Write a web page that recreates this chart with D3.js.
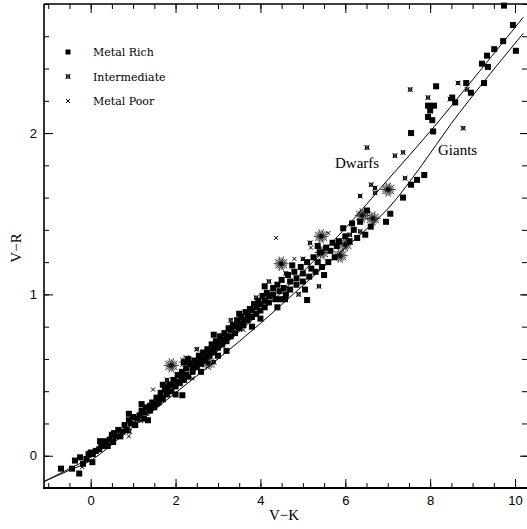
<!DOCTYPE html>
<html>
<head>
<meta charset="utf-8">
<script src="https://cdn.jsdelivr.net/npm/d3@7"></script>
<style>
  body { margin: 0; background: #fff; }
  svg { display: block; }
  .tick text { font-family: "Liberation Sans", sans-serif; font-size: 13px; fill: #000; }
</style>
</head>
<body>
<svg id="chart" width="527" height="529"></svg>
<script>

// values, [V-K, V-R]
var metalRich = [
  [-0.70,-0.08],[-0.44,-0.08],[-0.27,-0.11],[-0.37,-0.03],[-0.18,-0.05],[-0.25,-0.01],[-0.10,-0.02],
  [0.04,-0.04],[-0.05,0.01],[0.05,0.01],[0.12,0.03],[0.00,0.02],[0.22,0.09],[0.20,0.04],[0.30,0.06],
  [0.35,0.09],[0.45,0.10],[0.53,0.085],[0.50,0.13],[0.60,0.12],[0.65,0.16],[0.75,0.15],[0.80,0.19],
  [0.85,0.16],[0.95,0.20],[1.00,0.24],[1.05,0.19],[1.15,0.25],[1.20,0.28],[1.25,0.23],[1.30,0.30],
  [1.40,0.28],[1.45,0.33],[1.50,0.30],[1.55,0.36],[1.60,0.33],[1.65,0.39],[1.70,0.35],[1.75,0.41],
  [1.80,0.38],[1.85,0.44],[1.90,0.40],[1.95,0.47],[2.00,0.43],[2.05,0.50],[2.10,0.45],[2.16,0.375],
  [2.15,0.52],[2.20,0.47],[2.25,0.54],[2.30,0.49],[2.35,0.57],[2.40,0.52],[2.45,0.59],[2.50,0.55],
  [2.55,0.62],[2.60,0.57],[2.65,0.64],[2.70,0.59],[2.75,0.66],[2.80,0.62],[2.85,0.69],[2.90,0.64],
  [2.95,0.71],[3.00,0.67],[3.05,0.74],[3.10,0.69],[3.15,0.76],[3.20,0.71],[3.25,0.79],[3.30,0.74],
  [3.35,0.81],[3.40,0.76],[3.45,0.84],[3.50,0.79],[3.55,0.86],[3.60,0.81],[3.65,0.89],[3.70,0.84],
  [3.75,0.91],[3.80,0.86],[3.85,0.94],[3.90,0.88],[3.95,0.96],[4.00,0.90],[4.05,0.99],[4.10,0.92],
  [4.15,1.01],[4.20,0.95],[4.30,1.04],[4.35,0.97],[4.40,1.06],[4.47,0.97],[4.58,0.97],[4.50,1.09],
  [4.60,1.00],[4.65,1.12],[4.70,1.03],[4.80,1.14],[4.85,1.06],[4.95,1.17],[5.00,1.08],[5.10,0.965],
  [5.10,1.20],[5.15,1.11],[5.25,1.23],[5.30,1.14],[5.40,1.26],[5.45,1.17],[5.55,1.29],[5.60,1.20],
  [5.70,1.32],[5.75,1.23],[0.90,0.26],[1.35,0.22],[1.70,0.44],[2.00,0.38],[2.30,0.60],[2.60,0.52],
  [2.90,0.75],[3.20,0.65],[3.50,0.88],[3.80,0.80],[4.10,1.05],[4.40,0.92],[4.75,1.18],[5.05,1.03],
  [5.35,1.30],[5.50,1.12],[3.00,0.62],[2.20,0.58],[1.20,0.32],[4.00,0.85],
  [0.25,0.07],[0.40,0.06],[0.55,0.14],[0.70,0.12],[0.90,0.22],[1.10,0.23],[1.25,0.27],[1.40,0.31],
  [1.55,0.32],[1.65,0.36],[1.80,0.42],[1.90,0.44],[2.05,0.46],[2.15,0.49],[2.25,0.50],[2.40,0.55],
  [2.50,0.58],[2.60,0.60],[2.70,0.62],[2.80,0.65],[2.90,0.67],[3.00,0.70],[3.10,0.72],[3.20,0.74],
  [3.30,0.78],[3.40,0.80],[3.50,0.82],[3.60,0.84],[3.70,0.87],[3.80,0.90],[3.90,0.92],[4.00,0.94],
  [4.10,0.96],[4.20,0.99],[4.30,1.00],[4.45,1.02],[4.55,1.04],[4.70,1.08],[4.85,1.10],[5.00,1.13],
  [5.20,1.16],[5.35,1.20],[5.65,1.27],[5.85,1.33],[6.00,1.36],[6.20,1.40],[6.35,1.45],[5.80,1.30],
  [6.10,1.33],[6.60,1.42],
  [5.95,1.41],[6.16,1.44],[6.28,1.35],[6.47,1.37],[6.51,1.52],[6.96,1.45],[7.06,1.50],[7.36,1.60],
  [7.55,1.68],[7.69,1.71],[7.86,1.74],[7.55,2.00],[8.07,2.01],[7.95,2.10],[8.05,2.08],[8.00,2.14],
  [7.95,2.17],[8.09,2.17],[8.14,2.29],[8.52,2.22],[8.59,2.19],[8.85,2.31],[8.96,2.25],[9.27,2.31],
  [9.22,2.43],[9.36,2.41],[9.34,2.48],[9.51,2.52],[9.72,2.57],[10.02,2.51],[9.95,2.67],[9.74,2.79]
];
var intermediate = [
  [7.53,2.27],[7.95,2.22],[8.66,2.31],[8.47,2.21],[8.87,2.27],[8.78,2.03],[6.51,1.91],[7.17,1.86],
  [7.36,1.88],[7.41,1.72],[6.61,1.68],[6.70,1.66],[6.35,1.61],[6.70,1.63],[6.11,1.37],[6.35,1.39],
  [5.17,1.32],[5.38,1.05],[0.91,0.15],[2.50,0.66],[3.30,0.84],[4.20,1.08],[3.90,0.98],[1.80,0.47],
  [4.60,1.13],[5.00,1.22],[2.90,0.58],[4.90,1.00]
];
var metalPoor = [
  [1.19,0.215],[1.33,0.26],[1.47,0.41],[4.37,1.35],[5.19,1.29],[0.90,0.12],[2.40,0.48],
  [3.60,0.78],[4.80,1.22],[5.60,1.38],[-0.20,-0.07]
];
var starred = [
  [7.01,1.65],[6.40,1.49],[6.65,1.47],[5.43,1.36],[6.00,1.31],[5.88,1.24],[5.45,1.26],[4.49,1.19],
  [1.90,0.56],[2.25,0.58],[2.77,0.575]
];
var dwarfCurve = [
  [-1.1,-0.16],[-0.5,-0.08],[0,-0.01],[1,0.20],[2,0.42],[3,0.65],[4,0.89],[5,1.14],[6,1.41],
  [7,1.71],[8,2.01],[9,2.33],[10.2,2.72]
];
var giantCurve = [
  [-1.1,-0.16],[-0.5,-0.09],[0,-0.03],[1,0.18],[2,0.39],[3,0.60],[4,0.82],[5,1.055],[6,1.29],
  [7,1.53],[7.8,1.80],[8.5,2.06],[9.3,2.33],[10.2,2.62]
];
var xMajor = [0, 2, 4, 6, 8, 10];
var xMinor = d3.range(-1, 10.3, 0.5);
var yMajor = [0, 1, 2];
var yMinor = d3.range(-0.2, 2.81, 0.2);
var legendItems = ["Metal Rich", "Intermediate", "Metal Poor"];

var svg = d3.select("#chart");
var plotL = 44, plotR = 526.5, plotT = 4, plotB = 488;

var x = d3.scaleLinear().domain([-1.1, 10.27]).range([plotL, plotR]);
var y = d3.scaleLinear().domain([-0.2, 2.8]).range([plotB, plotT]);

function drawAxis(axis, tx, ty, vals, len, labels) {
  let g = svg.append("g").attr("transform", `translate(${tx},${ty})`)
    .call(axis.tickValues(vals).tickSizeInner(-len).tickSizeOuter(0)
      .tickFormat(labels ? d3.format("d") : ""));
  g.select(".domain").remove();
  g.selectAll(".tick line").attr("stroke", "#000").attr("stroke-width", 1);
  return g;
}

// ticks point inward on all four sides
drawAxis(d3.axisBottom(x), 0, plotB, xMajor, 9, true)
  .selectAll("text").attr("y", 8);
drawAxis(d3.axisBottom(x), 0, plotB, xMinor, 5, false);
drawAxis(d3.axisTop(x), 0, plotT, xMajor, 9, false);
drawAxis(d3.axisTop(x), 0, plotT, xMinor, 5, false);
drawAxis(d3.axisLeft(y), plotL, 0, yMajor, 9, true)
  .selectAll("text").attr("x", -7);
drawAxis(d3.axisLeft(y), plotL, 0, yMinor, 5, false);
drawAxis(d3.axisRight(y), 527, 0, yMajor, 7, false);
drawAxis(d3.axisRight(y), 527, 0, yMinor, 5, false);

svg.append("line").attr("x1", plotL).attr("x2", plotL).attr("y1", plotT).attr("y2", plotB + 1)
  .attr("stroke", "#000").attr("stroke-width", 1.6);
svg.append("line").attr("x1", plotL - 1).attr("x2", 527).attr("y1", plotB).attr("y2", plotB)
  .attr("stroke", "#000").attr("stroke-width", 2.2);
svg.append("line").attr("x1", plotL).attr("x2", 527).attr("y1", plotT).attr("y2", plotT)
  .attr("stroke", "#000").attr("stroke-width", 1.6);

// axis titles
svg.append("text").attr("x", 284).attr("y", 520).attr("text-anchor", "middle")
  .style("font-family", "Liberation Serif, serif").style("font-size", "15px").text("V\u2212K");
svg.append("text").attr("transform", "translate(21,248) rotate(-90)").attr("text-anchor", "middle")
  .style("font-family", "Liberation Serif, serif").style("font-size", "15px").text("V\u2212R");

// relations
var line = d3.line().x(d => x(d[0])).y(d => y(d[1])).curve(d3.curveCatmullRom);
[dwarfCurve, giantCurve].forEach(c => {
  svg.append("path").datum(c).attr("d", line)
    .attr("fill", "none").attr("stroke", "#000").attr("stroke-width", 1);
});

svg.append("text").attr("x", 335).attr("y", 168)
  .style("font-family", "Liberation Serif, serif").style("font-size", "15px").text("Dwarfs");
svg.append("text").attr("x", 438).attr("y", 155)
  .style("font-family", "Liberation Serif, serif").style("font-size", "15px").text("Giants");

// symbols
var crossBox = "M-2.4,-2.4L2.4,2.4M-2.4,2.4L2.4,-2.4M-1.5,-1.5H1.5V1.5H-1.5Z";
var smallX = "M-2,-2L2,2M-2,2L2,-2";
function burstPath(r) {
  let p = "";
  for (let i = 0; i < 20; i++) {
    let a = i * Math.PI / 10;
    let rr = i % 2 ? r * 0.8 : r;
    p += `M0,0L${(rr * Math.cos(a)).toFixed(2)},${(rr * Math.sin(a)).toFixed(2)}`;
  }
  return p;
}

var pts = svg.append("g");
pts.selectAll("rect.mr").data(metalRich).join("rect").attr("class", "mr")
  .attr("x", d => x(d[0]) - 3).attr("y", d => y(d[1]) - 3)
  .attr("width", 6).attr("height", 6).attr("fill", "#000");
pts.selectAll("path.im").data(intermediate).join("path").attr("class", "im")
  .attr("transform", d => `translate(${x(d[0])},${y(d[1])})`)
  .attr("d", crossBox).attr("fill", "none").attr("stroke", "#000").attr("stroke-width", 1);
pts.selectAll("path.mp").data(metalPoor).join("path").attr("class", "mp")
  .attr("transform", d => `translate(${x(d[0])},${y(d[1])})`)
  .attr("d", smallX).attr("fill", "none").attr("stroke", "#000").attr("stroke-width", 1);
var bursts = pts.selectAll("g.st").data(starred).join("g").attr("class", "st")
  .attr("transform", d => `translate(${x(d[0])},${y(d[1])})`);
bursts.append("path").attr("d", burstPath(7.5)).attr("stroke", "#000").attr("stroke-width", 0.8);
bursts.append("circle").attr("r", 2).attr("fill", "#000");

// legend
var legend = svg.append("g");
legendItems.forEach((name, i) => {
  let ly = 52 + i * 24.5;
  let m = legend.append("g").attr("transform", `translate(68,${ly})`);
  if (i == 0) m.append("rect").attr("x", -2.5).attr("y", -2.5).attr("width", 5).attr("height", 5);
  else m.append("path").attr("d", i == 1 ? crossBox : smallX)
    .attr("fill", "none").attr("stroke", "#000").attr("stroke-width", 1);
  legend.append("text").attr("x", 93).attr("y", ly + 4)
    .style("font-family", "DejaVu Serif, serif").style("font-size", "11px").text(name);
});
</script>
</body>
</html>
